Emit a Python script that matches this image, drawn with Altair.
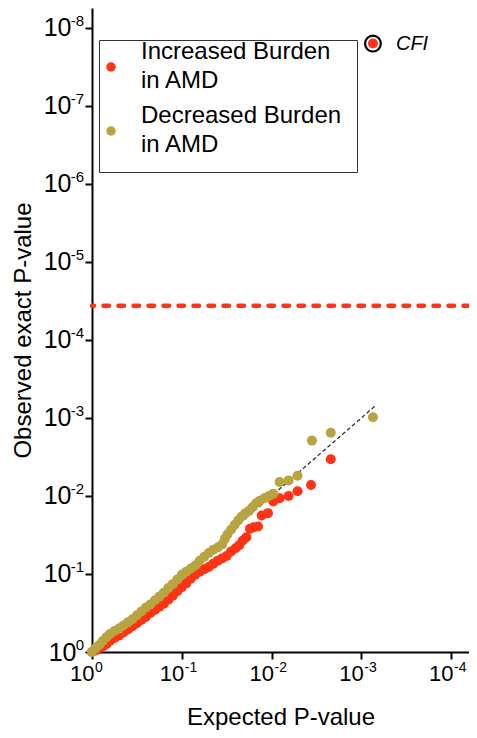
import altair as alt
import pandas as pd

# ---- data (axes in -log10(P)) ----
series_names = ["Increased Burden in AMD", "Decreased Burden in AMD"]
series_colors = ["#FF3315", "#B8A440"]

inc_x = [0.00, 0.04, 0.08, 0.12, 0.16, 0.20, 0.25, 0.30, 0.35, 0.40, 0.45, 0.50,
         0.55, 0.60, 0.65, 0.70, 0.75, 0.80, 0.85, 0.90, 0.95, 1.00, 1.05, 1.10,
         1.15, 1.20, 1.25, 1.30, 1.35, 1.40, 1.45, 1.50, 1.55, 1.60, 1.64, 1.68,
         1.72, 1.76, 1.80, 1.85, 1.89, 1.96, 2.02, 2.09, 2.19, 2.29, 2.44, 2.66,
         3.13]
inc_y = [0.00, 0.02, 0.05, 0.07, 0.10, 0.14, 0.18, 0.21, 0.25, 0.29, 0.33, 0.37,
         0.41, 0.45, 0.50, 0.54, 0.58, 0.62, 0.67, 0.72, 0.78, 0.83, 0.88, 0.94,
         0.99, 1.03, 1.06, 1.09, 1.13, 1.17, 1.20, 1.23, 1.29, 1.33, 1.37, 1.43,
         1.47, 1.58, 1.60, 1.61, 1.75, 1.78, 1.93, 1.97, 2.00, 2.06, 2.14, 2.47,
         7.80]

dec_x = [0.00, 0.04, 0.08, 0.12, 0.16, 0.20, 0.25, 0.30, 0.35, 0.40, 0.45, 0.50,
         0.55, 0.60, 0.65, 0.70, 0.75, 0.80, 0.85, 0.90, 0.95, 1.00, 1.05, 1.10,
         1.15, 1.20, 1.25, 1.30, 1.35, 1.40, 1.45, 1.48, 1.51, 1.55, 1.59, 1.63,
         1.67, 1.71, 1.75, 1.79, 1.83, 1.87, 1.92, 1.97, 2.02, 2.09, 2.19, 2.29,
         2.45, 2.66, 3.13]
dec_y = [0.00, 0.05, 0.09, 0.14, 0.19, 0.23, 0.27, 0.30, 0.34, 0.38, 0.42, 0.47,
         0.52, 0.57, 0.61, 0.66, 0.71, 0.76, 0.82, 0.87, 0.93, 0.99, 1.03, 1.07,
         1.11, 1.17, 1.22, 1.27, 1.31, 1.34, 1.38, 1.45, 1.51, 1.57, 1.63, 1.69,
         1.74, 1.78, 1.81, 1.86, 1.91, 1.94, 1.97, 2.00, 2.03, 2.18, 2.20, 2.26,
         2.71, 2.81, 3.01]

x_ticks = [0, 1, 2, 3, 4]
y_ticks = [0, 1, 2, 3, 4, 5, 6, 7, 8]
x_exponents = ["0", "-1", "-2", "-3", "-4"]
y_exponents = ["0", "-1", "-2", "-3", "-4", "-5", "-6", "-7", "-8"]
tick_base = "10"

threshold = [4.44]
diag_x = [0.0, 3.15]
diag_y = [0.0, 3.15]
cfi_x = [3.13]
cfi_y = [7.80]
cfi_label = ["CFI"]

x_domain = [0, 4.2]
y_domain = [0, 8.256]

FONT = "Liberation Sans"

# ---- tables ----
pts = pd.DataFrame({
    "x": inc_x + dec_x,
    "y": inc_y + dec_y,
    "series": [series_names[0]] * len(inc_x) + [series_names[1]] * len(dec_x),
})
diag = pd.DataFrame({"x": diag_x, "y": diag_y})
thr = pd.DataFrame({"y": threshold})
cfi = pd.DataFrame({"x": cfi_x, "y": cfi_y, "label": cfi_label})
xexp = pd.DataFrame({"x": x_ticks, "exp": x_exponents})
yexp = pd.DataFrame({"y": y_ticks, "exp": y_exponents})

x_scale = alt.Scale(domain=x_domain, nice=False, zero=False)
y_scale = alt.Scale(domain=y_domain, nice=False, zero=False)

X = alt.X("x:Q", scale=x_scale, title="Expected P-value",
          axis=alt.Axis(values=x_ticks, labelExpr="'" + tick_base + "'",
                        labelFlush=False, labelAlign="right", labelFontSize=22,
                        labelOffset=2, labelPadding=4, titlePadding=21,
                        titleFontSize=24))
Y = alt.Y("y:Q", scale=y_scale, title="Observed exact P-value",
          axis=alt.Axis(values=y_ticks, labelExpr="'" + tick_base + "'",
                        labelFlush=False, labelFontSize=25,
                        labelPadding={"condition": {"test": "datum.value === 0", "value": 9},
                                      "value": 14},
                        titlePadding=8, titleFontSize=24))

diag_layer = alt.Chart(diag).mark_line(
    color="#333333", strokeWidth=1.3, strokeDash=[4, 2.5]
).encode(x=X, y=Y)

thr_layer = alt.Chart(thr).mark_rule(
    color=series_colors[0], strokeWidth=4.5, strokeDash=[5.5, 9.5], strokeCap="round"
).encode(y=Y)

legend = alt.Legend(
    title=None, orient="none", legendX=7, legendY=32, direction="vertical",
    symbolType="circle", symbolSize=90, symbolStrokeWidth=0, symbolOpacity=1,
    symbolOffset=-15,
    labelFont=FONT, labelFontSize=24, labelColor="black", labelLimit=0,
    labelBaseline="line-bottom",
    labelOffset=18, rowPadding=11, padding=15, strokeColor="#333333",
    fillColor="white",
    labelExpr="[slice(datum.label, 0, indexof(datum.label, ' in ')), "
              "slice(datum.label, indexof(datum.label, ' in ') + 1)]",
)

pts_layer = alt.Chart(pts).mark_circle(size=100, opacity=1).encode(
    x=X, y=Y,
    color=alt.Color("series:N", scale=alt.Scale(domain=series_names, range=series_colors),
                    legend=legend, sort=series_names),
)

ring_layer = alt.Chart(cfi).mark_point(
    filled=False, shape="circle", size=250, stroke="black", strokeWidth=2.2, opacity=1
).encode(x=X, y=Y)

text_layer = alt.Chart(cfi).mark_text(
    align="left", baseline="middle", dx=23, font=FONT, fontSize=20,
    fontStyle="italic", color="black"
).encode(x=X, y=Y, text="label:N")

xexp_layer = alt.Chart(xexp).mark_text(
    align="left", baseline="top", dx=3, dy=9, font=FONT, fontSize=14, color="black"
).encode(x=X, y=alt.datum(0), text="exp:N")

yexp_layer = alt.Chart(yexp).mark_text(
    align="right", baseline="top", dx=-8, dy=-14, font=FONT, fontSize=15, color="black"
).encode(x=alt.datum(0), y=Y, text="exp:N")

chart = alt.layer(
    diag_layer, thr_layer, pts_layer, ring_layer, text_layer, xexp_layer, yexp_layer
).properties(
    width=377, height=644,
    autosize=alt.AutoSizeParams(type="none"),
    padding={"left": 84, "top": 0, "right": 0, "bottom": 78},
).configure(
    style={"guide-label": {"lineHeight": 29}}
).configure_view(stroke=None).configure_axis(
    grid=False, domainColor="black", domainWidth=2, tickColor="black", tickWidth=2,
    tickSize=7, labelFont=FONT, labelColor="black",
    titleFont=FONT, titleFontWeight="normal", titleColor="black",
)

chart.save("out.html", embed_options={"renderer": "svg", "actions": False})
